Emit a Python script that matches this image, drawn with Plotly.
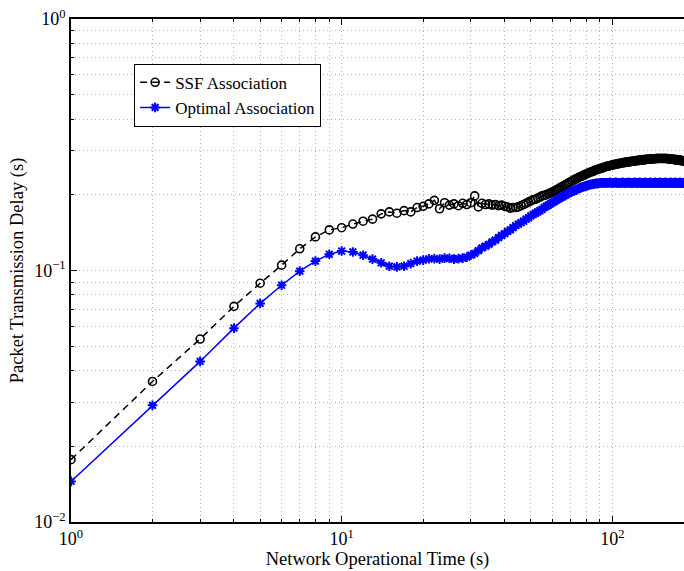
import math
import plotly.graph_objects as go

# ---------------- data ----------------
time_s = list(range(1, 191))

ssf_delay = [
    0.0177, 0.0362, 0.0534, 0.0720, 0.0890, 0.105, 0.122, 0.136, 0.145, 0.148,
    0.153, 0.157, 0.160, 0.168, 0.171, 0.169, 0.173, 0.171, 0.178, 0.180,
    0.184, 0.190, 0.176, 0.186, 0.182, 0.184, 0.181, 0.185, 0.183, 0.186,
    0.198, 0.179, 0.185, 0.183, 0.184, 0.182, 0.183, 0.181, 0.182, 0.180,
    0.179, 0.177, 0.178, 0.178, 0.179, 0.181, 0.183, 0.185, 0.187, 0.189,
    0.191, 0.192, 0.194, 0.196, 0.198, 0.199, 0.200, 0.202, 0.203, 0.205,
    0.207, 0.209, 0.211, 0.213, 0.215, 0.217, 0.219, 0.221, 0.223, 0.225,
    0.227, 0.229, 0.231, 0.232, 0.234, 0.236, 0.237, 0.239, 0.240, 0.242,
    0.243, 0.245, 0.246, 0.247, 0.248, 0.250, 0.251, 0.252, 0.253, 0.254,
    0.255, 0.256, 0.257, 0.258, 0.259, 0.260, 0.260, 0.261, 0.262, 0.263,
    0.263, 0.264, 0.265, 0.265, 0.266, 0.266, 0.267, 0.267, 0.268, 0.268,
    0.269, 0.269, 0.270, 0.270, 0.270, 0.271, 0.271, 0.272, 0.272, 0.272,
    0.273, 0.273, 0.273, 0.274, 0.274, 0.274, 0.275, 0.275, 0.275, 0.275,
    0.276, 0.276, 0.276, 0.277, 0.277, 0.277, 0.277, 0.277, 0.278, 0.278,
    0.278, 0.278, 0.278, 0.278, 0.279, 0.279, 0.279, 0.279, 0.279, 0.279,
    0.279, 0.279, 0.279, 0.279, 0.279, 0.279, 0.279, 0.279, 0.279, 0.278,
    0.278, 0.278, 0.278, 0.278, 0.277, 0.277, 0.277, 0.277, 0.276, 0.276,
    0.276, 0.276, 0.275, 0.275, 0.275, 0.275, 0.274, 0.274, 0.274, 0.274,
    0.273, 0.273, 0.273, 0.273, 0.272, 0.272, 0.272, 0.272, 0.271, 0.271,
]

optimal_delay = [
    0.0145, 0.0291, 0.0435, 0.0590, 0.0740, 0.0874, 0.0994, 0.109, 0.116, 0.1195,
    0.1185, 0.115, 0.111, 0.1073, 0.104, 0.1034, 0.104, 0.1065, 0.109, 0.110,
    0.1113, 0.1115, 0.111, 0.112, 0.1118, 0.111, 0.1115, 0.112, 0.113, 0.115,
    0.117, 0.120, 0.123, 0.125, 0.127, 0.130, 0.132, 0.135, 0.138, 0.140,
    0.143, 0.145, 0.148, 0.151, 0.153, 0.155, 0.157, 0.160, 0.162, 0.165,
    0.167, 0.169, 0.171, 0.173, 0.175, 0.178, 0.180, 0.182, 0.184, 0.186,
    0.188, 0.190, 0.192, 0.194, 0.196, 0.198, 0.199, 0.201, 0.203, 0.205,
    0.206, 0.207, 0.209, 0.210, 0.212, 0.213, 0.214, 0.215, 0.216, 0.217,
    0.218, 0.219, 0.220, 0.220, 0.221, 0.221, 0.222, 0.222, 0.222, 0.223,
    0.223, 0.223, 0.223, 0.223, 0.223, 0.223, 0.223, 0.224, 0.223, 0.223,
    0.223, 0.223, 0.224, 0.223, 0.223, 0.223, 0.223, 0.223, 0.224, 0.223,
    0.223, 0.223, 0.223, 0.223, 0.224, 0.223, 0.223, 0.223, 0.223, 0.223,
    0.224, 0.223, 0.223, 0.223, 0.223, 0.224, 0.223, 0.223, 0.223, 0.223,
    0.223, 0.224, 0.223, 0.223, 0.223, 0.223, 0.223, 0.224, 0.223, 0.223,
    0.223, 0.223, 0.223, 0.224, 0.223, 0.223, 0.223, 0.223, 0.223, 0.224,
    0.223, 0.223, 0.223, 0.223, 0.223, 0.223, 0.224, 0.223, 0.223, 0.223,
    0.223, 0.223, 0.223, 0.224, 0.223, 0.223, 0.223, 0.223, 0.223, 0.223,
    0.224, 0.223, 0.223, 0.223, 0.223, 0.223, 0.223, 0.224, 0.223, 0.223,
    0.223, 0.223, 0.223, 0.223, 0.224, 0.223, 0.223, 0.223, 0.223, 0.223,
]

x_major_vals = [1, 10, 100]
x_major_text = ["10<sup>0</sup>", "10<sup>1</sup>", "10<sup>2</sup>"]
x_minor_vals = [2, 3, 4, 5, 6, 7, 8, 9, 20, 30, 40, 50, 60, 70, 80, 90, 200]
y_major_vals = [0.01, 0.1, 1]
y_major_text = ["10<sup>\u22122</sup>", "10<sup>\u22121</sup>", "10<sup>0</sup>"]
y_minor_vals = [0.02, 0.03, 0.04, 0.05, 0.06, 0.07, 0.08, 0.09,
                0.2, 0.3, 0.4, 0.5, 0.6, 0.7, 0.8, 0.9]

# ---------------- figure ----------------
FONT = "Liberation Serif"
GRID = "#b4b4b4"
GRID_DASH = "1px,3px"

fig = go.Figure()
fig.add_trace(go.Scatter(
    x=time_s, y=ssf_delay, mode="lines+markers", name="SSF Association",
    line=dict(color="black", width=1.5, dash="7px,5px"),
    marker=dict(symbol="circle-open", size=8, color="black", line=dict(width=1.6, color="black")),
))
fig.add_trace(go.Scatter(
    x=time_s, y=optimal_delay, mode="lines+markers", name="Optimal Association",
    line=dict(color="#0000ff", width=1.5),
    marker=dict(symbol="asterisk-open", size=8, color="#0000ff", line=dict(width=2, color="#0000ff")),
))

axis_common = dict(
    type="log",
    showline=True, linecolor="black", linewidth=1.5,
    ticks="inside", ticklen=6, tickcolor="black", tickwidth=1,
    showgrid=True, gridcolor=GRID, griddash=GRID_DASH, gridwidth=1,
    zeroline=False,
    tickfont=dict(family=FONT, size=18, color="black"),
    title_font=dict(family=FONT, size=18.5, color="black"),
)

fig.update_xaxes(
    **axis_common,
    range=[0, math.log10(184)],
    tickmode="array", tickvals=x_major_vals, ticktext=x_major_text,
    mirror="ticks",
    minor=dict(tickmode="array", tickvals=x_minor_vals, ticks="inside", ticklen=3,
               tickcolor="black", showgrid=True, gridcolor=GRID, griddash=GRID_DASH, gridwidth=1),
    title=dict(text="Network Operational Time (s)", standoff=0),
)
fig.update_yaxes(
    **axis_common,
    range=[-2, 0],
    tickmode="array", tickvals=y_major_vals, ticktext=y_major_text,
    minor=dict(tickmode="array", tickvals=y_minor_vals, ticks="inside", ticklen=3,
               tickcolor="black", showgrid=True, gridcolor=GRID, griddash=GRID_DASH, gridwidth=1),
    title=dict(text="Packet Transmission Delay (s)", standoff=6),
)

fig.update_layout(
    width=684, height=571,
    margin=dict(l=71, r=0, t=19, b=49),
    paper_bgcolor="white", plot_bgcolor="white",
    font=dict(family=FONT, size=17, color="black"),
    showlegend=True,
    legend=dict(
        x=0.103, y=0.911, xanchor="left", yanchor="top",
        bgcolor="white", bordercolor="black", borderwidth=1,
        font=dict(family=FONT, size=17, color="black"),
        tracegroupgap=0, itemwidth=30,
    ),
)

fig.write_html("out.html")
